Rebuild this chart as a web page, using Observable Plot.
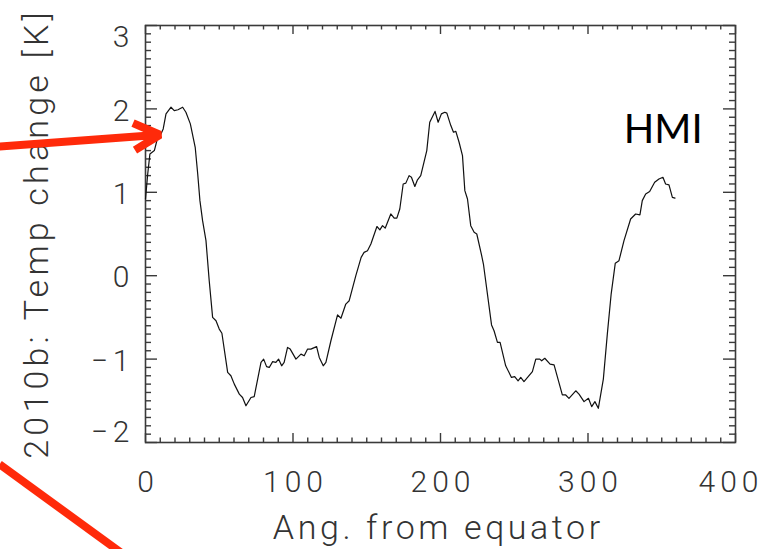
<!DOCTYPE html>
<html>
<head>
<meta charset="utf-8">
<script src="https://cdn.jsdelivr.net/npm/d3@7"></script>
<script src="https://cdn.jsdelivr.net/npm/@observablehq/plot@0.6"></script>
<style>
  html, body { margin: 0; padding: 0; background: #fff; }
  #chart { width: 770px; height: 549px; overflow: hidden; }
</style>
</head>
<body>
<div id="chart"></div>
<script>
// Angle from equator (deg) and temperature change (K)
const angle = [0, 1.5, 3, 6, 8.3, 10, 12, 13.9, 17.3, 19.5, 22, 25.2, 27.4, 30.4, 33.7, 35.4, 36.9, 38.7, 41, 43.2,
  45.5, 47.8, 50, 51.8, 55.7, 57.9, 60.2, 63.6, 65.8, 68.1, 71.5, 73.7, 78.3, 80.1, 82.1, 83.9, 86.2, 88.4, 90.2, 92.3,
  94, 96.3, 98.1, 102, 105.4, 107.6, 109.9, 112.1, 116, 117.8, 120.5, 122.3, 125.7, 130.2, 132.5, 135.8, 138.1, 142.6, 146.2, 148.2,
  150.5, 152.8, 156.9, 158.9, 160.7, 162.5, 166.3, 168.6, 170.4, 172.4, 174.7, 176.5, 178.7, 180.3, 182.6, 184.4, 186.6, 190.7, 192.7, 196.3,
  198.4, 200.6, 202.9, 204.3, 207, 208.8, 210.4, 212.6, 214.9, 216.5, 218.3, 220.5, 222.8, 224.6, 227.8, 229.1, 234.6, 236.3, 238.6, 240.4,
  244.2, 248.1, 250.3, 252.6, 254.4, 256.6, 262.3, 264.6, 267.3, 268.6, 270.7, 274.3, 277, 282.6, 284.9, 287.1, 291.7, 293.9, 297.3, 300.3,
  302.5, 304.7, 307, 310.4, 313.1, 315.7, 318.5, 321, 324.4, 328.9, 332.3, 335.2, 336.8, 339.1, 341.8, 345.2, 348.1, 350.8, 352.6, 354.9,
  357.2, 359];
const tempChange = [0.92, 1.22, 1.46, 1.50, 1.66, 1.68, 1.76, 1.94, 2.02, 1.98, 1.99, 2.02, 1.96, 1.82, 1.54, 1.22, 0.9, 0.66, 0.42, -0.06,
  -0.5, -0.54, -0.64, -0.69, -1.16, -1.2, -1.30, -1.42, -1.46, -1.56, -1.46, -1.45, -1.04, -1.0, -1.09, -1.10, -1.03, -1.04, -1.0, -1.08,
  -1.04, -0.86, -0.88, -1.0, -0.94, -0.96, -0.88, -0.88, -0.85, -0.98, -1.08, -1.04, -0.78, -0.47, -0.51, -0.34, -0.30, 0.0, 0.22, 0.28,
  0.30, 0.38, 0.59, 0.55, 0.60, 0.57, 0.74, 0.69, 0.69, 0.80, 1.10, 1.11, 1.20, 1.18, 1.07, 1.15, 1.20, 1.50, 1.84, 1.97,
  1.84, 1.94, 1.96, 1.95, 1.80, 1.72, 1.73, 1.60, 1.44, 1.02, 0.92, 0.60, 0.52, 0.50, 0.25, 0.14, -0.59, -0.66, -0.80, -0.80,
  -1.08, -1.22, -1.21, -1.26, -1.22, -1.27, -1.15, -1.0, -1.0, -1.02, -0.99, -1.06, -1.07, -1.43, -1.43, -1.47, -1.38, -1.42, -1.51, -1.47,
  -1.57, -1.51, -1.59, -1.24, -0.70, -0.22, 0.15, 0.18, 0.42, 0.68, 0.74, 0.73, 0.90, 0.98, 1.01, 1.12, 1.16, 1.18, 1.10, 1.09,
  0.94, 0.93];

const xTickLabels = [0, 100, 200, 300, 400];
const yTickLabels = [-2, -1, 0, 1, 2, 3];
const xTitle = "Ang. from equator";
const yTitle = "2010b: Temp change [K]";
const seriesLabel = "HMI";

// Red annotation lines (data coordinates, extending outside the frame)
const arrowFrom = [{x: -99, y: 1.55}];
const arrowTo = [{x: 9.8, y: 1.69}];
const slashFrom = [{x: -99, y: -2.26}];
const slashTo = [{x: -12, y: -3.38}];

const data = angle.map((a, i) => ({angle: a, temp: tempChange[i]}));

// layout
const W = 770, H = 549, ML = 145, MR = 35, MT = 25, MB = 107;
const xDom = [0, 400], yDom = [-2, 3];
const xPerPx = (xDom[1] - xDom[0]) / (W - ML - MR);
const yPerPx = (yDom[1] - yDom[0]) / (H - MT - MB);

const xMajor = xTickLabels;
const xMinor = d3.range(0, 401, 10).filter(v => v % 100 !== 0);
const yMajor = yTickLabels;
const yMinor = d3.range(-20, 31, 1).map(v => v / 10).filter(v => Math.abs(v - Math.round(v)) > 1e-9);

const tickColor = "#3a3a3a";
const textColor = "#333";
const fontFam = "Roboto, 'DejaVu Sans', sans-serif";
const LS = 5;    // tick label letter spacing
const TLS = 4.2; // y title letter spacing
const XTLS = 3.6; // x title letter spacing

function xTicks(vals, len) {
  return [
    Plot.ruleX(vals, {x: d => d, y1: yDom[0], y2: yDom[0] + len * yPerPx, stroke: tickColor, strokeWidth: 1.4}),
    Plot.ruleX(vals, {x: d => d, y1: yDom[1], y2: yDom[1] - len * yPerPx, stroke: tickColor, strokeWidth: 1.4})
  ];
}
function yTicks(vals, len) {
  return [
    Plot.ruleY(vals, {y: d => d, x1: xDom[0], x2: xDom[0] + len * xPerPx, stroke: tickColor, strokeWidth: 1.4}),
    Plot.ruleY(vals, {y: d => d, x1: xDom[1], x2: xDom[1] - len * xPerPx, stroke: tickColor, strokeWidth: 1.4})
  ];
}

const fmt = d => (d < 0 ? "\u2212" + Math.abs(d) : String(d));
const labelStyle = {fill: textColor, fontSize: 30, fontWeight: 300, fontFamily: fontFam};
const titleStyle = {fill: textColor, fontSize: 34, fontWeight: 300, fontFamily: fontFam};

const chart = Plot.plot({
  width: W, height: H,
  marginLeft: ML, marginRight: MR, marginTop: MT, marginBottom: MB,
  x: {domain: xDom, axis: null},
  y: {domain: yDom, axis: null},
  style: {background: "white", overflow: "visible"},
  marks: [
    ...xTicks(xMinor, 4.5),
    ...xTicks(xMajor, 9),
    ...yTicks(yMinor, 6),
    ...yTicks(yMajor, 12),
    Plot.frame({stroke: tickColor, strokeWidth: 1.6}),
    Plot.line(data, {x: "angle", y: "temp", stroke: "#111", strokeWidth: 1.2}),
    // x tick labels
    Plot.text(xTickLabels.filter(d => d < 400), {x: d => d, frameAnchor: "bottom", dx: LS / 2, dy: 40, textAnchor: "middle", lineAnchor: "middle", text: fmt, ...labelStyle}),
    Plot.text(xTickLabels.filter(d => d === 400), {x: d => d, frameAnchor: "bottom", dx: LS / 2 - 7, dy: 40, textAnchor: "middle", lineAnchor: "middle", text: fmt, ...labelStyle}),
    // y tick labels
    Plot.text(yTickLabels.filter(d => d > -2 && d < 3), {y: d => d, frameAnchor: "left", dx: -16 + LS, dy: 2, textAnchor: "end", lineAnchor: "middle", text: fmt, ...labelStyle}),
    Plot.text(yTickLabels.filter(d => d === 3), {y: d => d, frameAnchor: "left", dx: -16 + LS, dy: 12, textAnchor: "end", lineAnchor: "middle", text: fmt, ...labelStyle}),
    Plot.text(yTickLabels.filter(d => d === -2), {y: d => d, frameAnchor: "left", dx: -16 + LS, dy: -10, textAnchor: "end", lineAnchor: "middle", text: fmt, ...labelStyle}),
    // axis titles
    Plot.text([xTitle], {frameAnchor: "bottom", dx: XTLS / 2 - 4, dy: 86, textAnchor: "middle", lineAnchor: "middle", text: d => d, ...titleStyle}),
    Plot.text([yTitle], {frameAnchor: "left", dx: -108, dy: 1.5 - TLS / 2, rotate: -90, textAnchor: "middle", lineAnchor: "middle", text: d => d, ...titleStyle}),
    // series label
    Plot.text([seriesLabel], {x: 351, y: 1.75, text: d => d, fill: "#000", fontSize: 40, fontFamily: "Lato, 'Open Sans', sans-serif", lineAnchor: "middle"}),
    // red annotations
    Plot.arrow(arrowFrom, {x1: d => d.x, y1: d => d.y, x2: (d, i) => arrowTo[i].x, y2: (d, i) => arrowTo[i].y,
      stroke: "#ff2a0a", strokeWidth: 8, headLength: 5.5, headAngle: 55, strokeLinecap: "butt"}),
    Plot.link(slashFrom, {x1: d => d.x, y1: d => d.y, x2: (d, i) => slashTo[i].x, y2: (d, i) => slashTo[i].y,
      stroke: "#ff2a0a", strokeWidth: 8})
  ]
});
const tickTexts = new Set([...xTickLabels, ...yTickLabels].map(fmt));
chart.querySelectorAll("text").forEach(t => {
  const s = t.textContent;
  if (tickTexts.has(s)) t.setAttribute("letter-spacing", LS);
  else if (s === yTitle) t.setAttribute("letter-spacing", TLS);
  else if (s === xTitle) t.setAttribute("letter-spacing", XTLS);
});
document.getElementById("chart").appendChild(chart);
</script>
</body>
</html>
